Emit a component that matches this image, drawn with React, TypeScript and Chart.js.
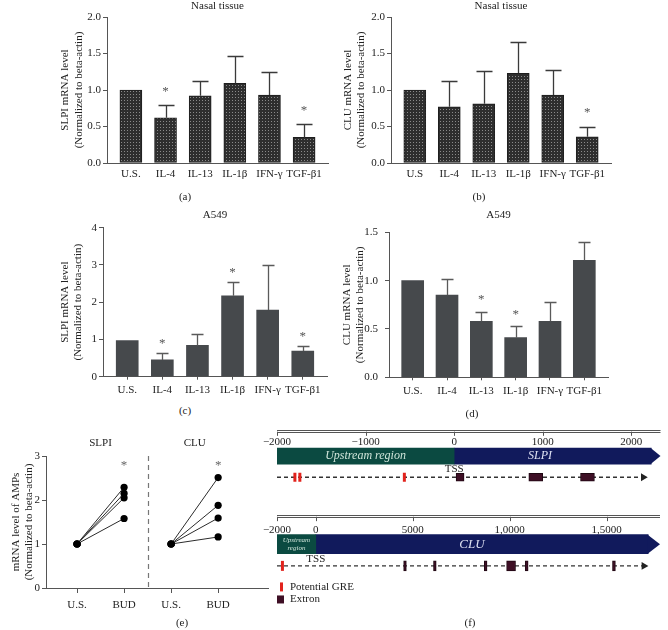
import React, { useEffect, useRef } from 'react';
import { Chart, registerables } from 'chart.js';

Chart.register(...registerables);

const SERIF = "'Liberation Serif', 'Times New Roman', Times, serif";
Chart.defaults.font.family = SERIF;
Chart.defaults.color = '#222';

// ---------------- data ----------------
const CATS_A = ['U.S.', 'IL-4', 'IL-13', 'IL-1β', 'IFN-γ', 'TGF-β1'];
const CATS_B = ['U.S', 'IL-4', 'IL-13', 'IL-1β', 'IFN-γ', 'TGF-β1'];

const NASAL_SLPI_MEAN = [1.0, 0.62, 0.92, 1.09, 0.93, 0.35];
const NASAL_SLPI_UPPER = [null, 0.79, 1.12, 1.47, 1.25, 0.54];
const NASAL_SLPI_SIG = [0, 1, 0, 0, 0, 1];

const NASAL_CLU_MEAN = [1.0, 0.77, 0.81, 1.23, 0.93, 0.36];
const NASAL_CLU_UPPER = [null, 1.13, 1.26, 1.66, 1.27, 0.5];
const NASAL_CLU_SIG = [0, 0, 0, 0, 0, 1];

const A549_SLPI_MEAN = [0.97, 0.45, 0.84, 2.17, 1.79, 0.69];
const A549_SLPI_UPPER = [null, 0.63, 1.15, 2.55, 3.0, 0.83];
const A549_SLPI_SIG = [0, 1, 0, 1, 0, 1];

const A549_CLU_MEAN = [1.0, 0.85, 0.58, 0.41, 0.58, 1.21];
const A549_CLU_UPPER = [null, 1.02, 0.68, 0.53, 0.78, 1.4];
const A549_CLU_SIG = [0, 0, 1, 1, 0, 0];

// (e)
const BUD_XLABELS = ['U.S.', 'BUD', 'U.S.', 'BUD'];
const BUD_GROUPS = ['SLPI', 'CLU'];
const BUD_SLPI_US = [1, 1, 1, 1];
const BUD_SLPI_BUD = [2.29, 2.15, 2.05, 1.58];
const BUD_CLU_US = [1, 1, 1, 1];
const BUD_CLU_BUD = [2.51, 1.88, 1.59, 1.16];
const BUD_STAR_LEVEL = 2.85;
const BUD_DIVIDER = 1.5;

// (f)
const TSS = 0;
const SLPI_TICKS = [-2000, -1000, 0, 1000, 2000];
const SLPI_TICK_LABELS = ['−2000', '−1000', '0', '1000', '2000'];
const SLPI_RANGE = [-2000, 2330];
const SLPI_UPSTREAM = [-2000, 0];
const SLPI_GENE = [0, 2225];
const SLPI_TRACK = [-2000, 2135];
const SLPI_GRE = [-1798, -1742, -562];
const SLPI_EXON_START = [22, 843, 1427];
const SLPI_EXON_END = [112, 1000, 1584];

const CLU_TICKS = [-2000, 0, 5000, 10000, 15000];
const CLU_TICK_LABELS = ['−2000', '0', '5000', '1,0000', '1,5000'];
const CLU_RANGE = [-2000, 17750];
const CLU_UPSTREAM = [-2000, 0];
const CLU_GENE = [0, 17140];
const CLU_TRACK = [-2000, 16920];
const CLU_GRE = [-1720];
const CLU_EXON_START = [4530, 6070, 8690, 9840, 10800, 15300];
const CLU_EXON_END = [4670, 6210, 8830, 10300, 10950, 15450];

// ---------------- styles ----------------
const TEAL = '#0b4a41';
const NAVY = '#111a5c';
const EXON = '#3e0f25';
const GRE_RED = '#e2231d';
const AXIS = '#555';
const X_MIN = -0.69;
const X_MAX = 5.69;

function errPlugin(p: any) {
  return {
    id: 'errbars',
    afterDatasetsDraw(chart: any) {
      const { ctx } = chart;
      const xs = chart.scales.x, ys = chart.scales.y;
      ctx.save();
      ctx.strokeStyle = p.errColor;
      ctx.lineWidth = 1.3;
      p.upper.forEach((u: number | null, i: number) => {
        if (u == null) return;
        const cx = Math.round(xs.getPixelForValue(i)) + 0.5;
        const top = Math.round(ys.getPixelForValue(u)) + 0.5;
        const base = ys.getPixelForValue(p.mean[i]);
        ctx.beginPath();
        ctx.moveTo(cx, base);
        ctx.lineTo(cx, top);
        ctx.moveTo(cx - p.cap / 2, top);
        ctx.lineTo(cx + p.cap / 2, top);
        ctx.stroke();
      });
      ctx.fillStyle = '#555';
      ctx.font = `13px ${SERIF}`;
      ctx.textAlign = 'center';
      ctx.textBaseline = 'middle';
      p.sig.forEach((s: number, i: number) => {
        if (!s) return;
        const ref = p.upper[i] ?? p.mean[i];
        ctx.fillText('*', xs.getPixelForValue(i), ys.getPixelForValue(ref) - p.starGap);
      });
      ctx.restore();
    },
  };
}

function makeBarConfig(p: any) {
  const font = { family: SERIF, size: 11 };
  let fill: any = p.fill;
  if (p.pattern) {
    const c = document.createElement('canvas');
    c.width = 3;
    c.height = 3;
    const g = c.getContext('2d')!;
    g.fillStyle = '#2e2e2e';
    g.fillRect(0, 0, 3, 3);
    g.fillStyle = '#8a8a8a';
    g.fillRect(1, 1, 1, 1);
    fill = g.createPattern(c, 'repeat');
  }
  return {
    type: 'bar',
    data: {
      datasets: [
        {
          data: p.mean.map((v: number, i: number) => ({ x: i, y: v })),
          backgroundColor: fill,
          borderColor: '#1e1e1e',
          borderWidth: p.barBorderWidth,
          borderSkipped: false,
          barThickness: 22,
        },
      ],
    },
    options: {
      animation: false,
      responsive: false,
      events: [],
      layout: { padding: { left: 0, right: p.padRight, top: p.padTop, bottom: 0 } },
      plugins: {
        legend: { display: false },
        tooltip: { enabled: false },
        title: {
          display: true,
          text: p.title,
          fullSize: false,
          color: '#222',
          font: { ...font, weight: 'normal', lineHeight: 1.2 },
          padding: { top: 0, bottom: p.titleGap },
        },
      },
      scales: {
        x: {
          type: 'linear',
          min: X_MIN,
          max: X_MAX,
          bounds: 'data',
          offset: false,
          afterBuildTicks: (s: any) => {
            s.ticks = p.cats.map((_: string, i: number) => ({ value: i }));
          },
          afterFit: (s: any) => {
            s.height = p.xAxisH;
          },
          ticks: {
            callback: (v: number) => p.cats[v] ?? '',
            autoSkip: false,
            maxRotation: 0,
            padding: p.xTickPad,
            font,
            color: '#222',
          },
          grid: {
            display: p.xTickLen > 0,
            drawOnChartArea: false,
            drawTicks: p.xTickLen > 0,
            tickLength: p.xTickLen,
            color: AXIS,
            offset: false,
          },
          border: { display: true, color: AXIS, width: 1 },
        },
        y: {
          type: 'linear',
          min: 0,
          max: p.yMax,
          bounds: 'data',
          offset: false,
          ticks: {
            stepSize: p.yStep,
            callback: (v: number) => Number(v).toFixed(p.decimals),
            padding: p.yTickPad,
            font,
            color: '#222',
          },
          afterFit: (s: any) => {
            s.width = p.yAxisW;
          },
          title: {
            display: true,
            text: p.yTitle,
            color: '#222',
            font: { ...font, lineHeight: 1.2 },
            padding: { top: p.yTitlePad, bottom: 0 },
          },
          grid: { display: true, drawOnChartArea: false, drawTicks: true, tickLength: 4, color: AXIS },
          border: { display: true, color: AXIS, width: 1 },
        },
      },
    },
    plugins: [errPlugin(p)],
  };
}

const makeA = () =>
  makeBarConfig({
    title: 'Nasal tissue', cats: CATS_A, mean: NASAL_SLPI_MEAN, upper: NASAL_SLPI_UPPER, sig: NASAL_SLPI_SIG,
    yMax: 2, yStep: 0.5, decimals: 1, yTitle: ['SLPI mRNA level', '(Normalized to beta-actin)'],
    yAxisW: 107, padRight: 6, padTop: 0, titleGap: 3.8, xAxisH: 27, yTitlePad: 59, yTickPad: 2,
    xTickLen: 0, xTickPad: 5, pattern: true, barBorderWidth: 1, cap: 16, errColor: '#3a3a3a', starGap: 13.5,
  });

const makeB = () =>
  makeBarConfig({
    title: 'Nasal tissue', cats: CATS_B, mean: NASAL_CLU_MEAN, upper: NASAL_CLU_UPPER, sig: NASAL_CLU_SIG,
    yMax: 2, yStep: 0.5, decimals: 1, yTitle: ['CLU mRNA level', '(Normalized to beta-actin)'],
    yAxisW: 57, padRight: 57, padTop: 0, titleGap: 3.8, xAxisH: 27, yTitlePad: 7.4, yTickPad: 2,
    xTickLen: 0, xTickPad: 4.5, pattern: true, barBorderWidth: 1, cap: 16, errColor: '#3a3a3a', starGap: 14,
  });

const makeC = () =>
  makeBarConfig({
    title: 'A549', cats: CATS_A, mean: A549_SLPI_MEAN, upper: A549_SLPI_UPPER, sig: A549_SLPI_SIG,
    yMax: 4, yStep: 1, decimals: 0, yTitle: ['SLPI mRNA level', '(Normalized to beta-actin)'],
    yAxisW: 103, padRight: 7, padTop: 8.4, titleGap: 6.1, xAxisH: 23.3, yTitlePad: 58.4, yTickPad: 2,
    xTickLen: 3, xTickPad: 4, pattern: false, fill: '#46494c', barBorderWidth: 0, cap: 12, errColor: '#5a5a5a', starGap: 9.5,
  });

const makeD = () =>
  makeBarConfig({
    title: 'A549', cats: CATS_A, mean: A549_CLU_MEAN, upper: A549_CLU_UPPER, sig: A549_CLU_SIG,
    yMax: 1.5, yStep: 0.5, decimals: 1, yTitle: ['CLU mRNA level', '(Normalized to beta-actin)'],
    yAxisW: 55, padRight: 60, padTop: 8.4, titleGap: 10.7, xAxisH: 22.7, yTitlePad: 6.2, yTickPad: 7,
    xTickLen: 3, xTickPad: 4, pattern: false, fill: '#46494c', barBorderWidth: 0, cap: 12, errColor: '#5a5a5a', starGap: 11.5,
  });

// ---------------- (e) ----------------
const budPlugin = {
  id: 'budDecor',
  beforeDatasetsDraw(chart: any) {
    const { ctx, chartArea } = chart;
    const xs = chart.scales.x;
    ctx.save();
    const dx = Math.round(xs.getPixelForValue(BUD_DIVIDER)) + 0.5;
    ctx.strokeStyle = '#777';
    ctx.lineWidth = 1.2;
    ctx.setLineDash([5, 4]);
    ctx.beginPath();
    ctx.moveTo(dx, chartArea.top);
    ctx.lineTo(dx, chartArea.bottom);
    ctx.stroke();
    ctx.restore();
  },
  afterDatasetsDraw(chart: any) {
    const { ctx, chartArea } = chart;
    const xs = chart.scales.x, ys = chart.scales.y;
    ctx.save();
    ctx.fillStyle = '#222';
    ctx.font = `11px ${SERIF}`;
    ctx.textAlign = 'center';
    ctx.textBaseline = 'middle';
    BUD_GROUPS.forEach((g, i) => ctx.fillText(g, xs.getPixelForValue(2 * i + 0.5), chartArea.top - 13));
    ctx.fillStyle = '#666';
    ctx.font = `13px ${SERIF}`;
    [1, 3].forEach((v) => ctx.fillText('*', xs.getPixelForValue(v), ys.getPixelForValue(BUD_STAR_LEVEL) + 2.5));
    ctx.restore();
  },
};

const makeE = () => {
  const font = { family: SERIF, size: 11 };
  const style = {
    borderColor: '#2b2b2b', borderWidth: 1, pointRadius: 3.6, pointBackgroundColor: '#000',
    pointBorderColor: '#000', pointBorderWidth: 0, fill: false, tension: 0,
  };
  const datasets: any[] = [];
  BUD_SLPI_US.forEach((u, i) => datasets.push({ ...style, data: [{ x: 0, y: u }, { x: 1, y: BUD_SLPI_BUD[i] }] }));
  BUD_CLU_US.forEach((u, i) => datasets.push({ ...style, data: [{ x: 2, y: u }, { x: 3, y: BUD_CLU_BUD[i] }] }));
  return {
    type: 'line',
    data: { datasets },
    options: {
      animation: false,
      responsive: false,
      events: [],
      layout: { padding: { left: 0, right: 4, top: 31, bottom: 0 } },
      plugins: { legend: { display: false }, tooltip: { enabled: false } },
      scales: {
        x: {
          type: 'linear', min: -0.66, max: 4.06, bounds: 'data', offset: false,
          afterBuildTicks: (s: any) => {
            s.ticks = BUD_XLABELS.map((_, i) => ({ value: i }));
          },
          afterFit: (s: any) => {
            s.height = 27;
          },
          ticks: { callback: (v: number) => BUD_XLABELS[v] ?? '', autoSkip: false, maxRotation: 0, padding: 6, font, color: '#222' },
          grid: { display: true, drawOnChartArea: false, drawTicks: true, tickLength: 5, color: AXIS, offset: false },
          border: { display: true, color: AXIS, width: 1 },
        },
        y: {
          type: 'linear', min: 0, max: 3, bounds: 'data', offset: false,
          ticks: { stepSize: 1, padding: 2, font, color: '#222' },
          afterFit: (s: any) => {
            s.width = 46;
          },
          title: {
            display: true,
            text: ['mRNA level of AMPs', '(Normalized to beta-actin)'],
            color: '#222',
            font: { ...font, lineHeight: 1.2 },
            padding: { top: 9.6, bottom: 0 },
          },
          grid: { display: true, drawOnChartArea: false, drawTicks: true, tickLength: 4, color: AXIS },
          border: { display: true, color: AXIS, width: 1 },
        },
      },
    },
    plugins: [budPlugin],
  };
};

// ---------------- (f) ----------------
function genePlugin(s: any) {
  return {
    id: 'geneDecor',
    beforeDatasetsDraw(chart: any) {
      const { ctx } = chart;
      const xs = chart.scales.x, ys = chart.scales.y;
      const L = xs.getPixelForValue(s.range[0]);
      const R = xs.getPixelForValue(s.range[1]);
      ctx.save();
      ctx.strokeStyle = '#555';
      ctx.lineWidth = 1;
      for (const r of [s.rows.line1, s.rows.line2]) {
        const yy = Math.round(ys.getPixelForValue(r)) + 0.5;
        ctx.beginPath();
        ctx.moveTo(L, yy);
        ctx.lineTo(R, yy);
        ctx.stroke();
      }
      const yA = ys.getPixelForValue(s.rows.line2);
      const yB = ys.getPixelForValue(s.rows.tickEnd);
      ctx.fillStyle = '#222';
      ctx.font = `11px ${SERIF}`;
      ctx.textAlign = 'center';
      ctx.textBaseline = 'middle';
      s.ticks.forEach((t: number, i: number) => {
        const px = Math.round(xs.getPixelForValue(t)) + 0.5;
        ctx.beginPath();
        ctx.moveTo(px, yA);
        ctx.lineTo(px, yB);
        ctx.stroke();
        ctx.fillText(s.tickLabels[i], xs.getPixelForValue(t), ys.getPixelForValue(s.rows.label));
      });
      ctx.restore();
    },
    afterDatasetsDraw(chart: any) {
      const { ctx, chartArea } = chart;
      const xs = chart.scales.x, ys = chart.scales.y;
      const gy = ys.getPixelForValue(s.rows.gene);
      const h = s.geneThick / 2;
      const xb = xs.getPixelForValue(s.gene[1]);
      const xt = xs.getPixelForValue(s.range[1]);
      ctx.save();
      ctx.fillStyle = NAVY;
      ctx.beginPath();
      ctx.moveTo(xb - 0.5, gy - h);
      ctx.lineTo(xt, gy);
      ctx.lineTo(xb - 0.5, gy + h);
      ctx.closePath();
      ctx.fill();
      ctx.textAlign = 'center';
      ctx.textBaseline = 'middle';
      const ux = xs.getPixelForValue((s.upstream[0] + s.upstream[1]) / 2);
      ctx.fillStyle = '#cfe5da';
      ctx.font = `italic ${s.upFont}px ${SERIF}`;
      const n = s.upLabel.length;
      s.upLabel.forEach((line: string, i: number) =>
        ctx.fillText(line, ux, gy + (i - (n - 1) / 2) * s.upFont * 1.15)
      );
      ctx.fillStyle = '#dde0f2';
      ctx.font = `italic ${s.geneFont}px ${SERIF}`;
      ctx.fillText(s.geneLabel, xs.getPixelForValue(s.geneLabelAt), gy);
      ctx.fillStyle = '#222';
      ctx.font = `11px ${SERIF}`;
      ctx.fillText('TSS', xs.getPixelForValue(TSS), ys.getPixelForValue(s.rows.tss));
      if (s.legend) {
        const L = chartArea.left;
        const gyL = ys.getPixelForValue(s.legend.gre);
        const eyL = ys.getPixelForValue(s.legend.exon);
        ctx.strokeStyle = GRE_RED;
        ctx.lineWidth = 3;
        ctx.beginPath();
        ctx.moveTo(L + 4.5, gyL - 4.5);
        ctx.lineTo(L + 4.5, gyL + 4.5);
        ctx.stroke();
        ctx.fillStyle = EXON;
        ctx.fillRect(L, eyL - 4, 7, 8);
        ctx.fillStyle = '#222';
        ctx.textAlign = 'left';
        ctx.font = `11px ${SERIF}`;
        ctx.fillText('Potential GRE', L + 13, gyL);
        ctx.fillText('Extron', L + 13, eyL);
      }
      ctx.restore();
    },
  };
}

function makeGeneConfig(s: any) {
  const gy = s.rows.gene;
  const ty = s.rows.track;
  return {
    type: 'bar',
    data: {
      datasets: [
        {
          type: 'bar', indexAxis: 'y', data: [{ x: [s.upstream[0], s.upstream[1]], y: gy }],
          backgroundColor: TEAL, borderWidth: 0, barThickness: s.geneThick, stack: 'g', order: 5,
        },
        {
          type: 'bar', indexAxis: 'y', data: [{ x: [s.gene[0], s.gene[1]], y: gy }],
          backgroundColor: NAVY, borderWidth: 0, barThickness: s.geneThick, stack: 'g', order: 5,
        },
        {
          type: 'line', indexAxis: 'x',
          data: [{ x: s.track[0], y: ty }, { x: s.track[1], y: ty }],
          borderColor: '#333', borderWidth: 1.3, borderDash: [4, 3],
          pointRadius: [0, 4.5], pointStyle: 'triangle', pointRotation: 90,
          pointBackgroundColor: '#222', pointBorderColor: '#222', pointBorderWidth: 0, order: 4,
        },
        {
          type: 'bar', indexAxis: 'y',
          data: s.exonStart.map((st: number, i: number) => ({ x: [st, s.exonEnd[i]], y: ty })),
          backgroundColor: EXON, borderColor: '#1f0712', borderWidth: 1, borderSkipped: false,
          barThickness: s.exonThick, stack: 'g', order: 2,
        },
        {
          type: 'scatter', indexAxis: 'x',
          data: s.gre.map((g: number) => ({ x: g, y: ty })),
          pointStyle: 'line', pointRadius: s.greLen / 2, pointRotation: 90,
          pointBorderWidth: s.greWidth, pointBorderColor: GRE_RED, pointBackgroundColor: GRE_RED,
          showLine: false, order: 1,
        },
      ],
    },
    options: {
      indexAxis: 'y',
      animation: false,
      responsive: false,
      events: [],
      layout: { padding: { left: s.padLeft, right: s.padRight, top: 0, bottom: 0 } },
      plugins: { legend: { display: false }, tooltip: { enabled: false }, title: { display: false } },
      scales: {
        x: { type: 'linear', display: false, min: s.range[0], max: s.range[1], bounds: 'data', offset: false, stacked: false },
        y: { type: 'linear', display: false, min: 0, max: s.h, reverse: true, bounds: 'data', offset: false },
      },
    },
    plugins: [genePlugin(s)],
  };
}

const makeSlpiGene = () =>
  makeGeneConfig({
    h: 90, padLeft: 15, padRight: 6,
    range: SLPI_RANGE, ticks: SLPI_TICKS, tickLabels: SLPI_TICK_LABELS,
    upstream: SLPI_UPSTREAM, gene: SLPI_GENE, track: SLPI_TRACK, gre: SLPI_GRE,
    exonStart: SLPI_EXON_START, exonEnd: SLPI_EXON_END,
    rows: { line1: 14.5, line2: 17, tickEnd: 22, label: 29.3, gene: 46.3, tss: 61.7, track: 71.7 },
    geneThick: 16, exonThick: 8, greLen: 9, greWidth: 3,
    geneLabel: 'SLPI', geneLabelAt: 970, geneFont: 12,
    upLabel: ['Upstream region'], upFont: 12,
  });

const makeCluGene = () =>
  makeGeneConfig({
    h: 130, padLeft: 15, padRight: 6,
    range: CLU_RANGE, ticks: CLU_TICKS, tickLabels: CLU_TICK_LABELS,
    upstream: CLU_UPSTREAM, gene: CLU_GENE, track: CLU_TRACK, gre: CLU_GRE,
    exonStart: CLU_EXON_START, exonEnd: CLU_EXON_END,
    rows: { line1: 7.5, line2: 10, tickEnd: 15, label: 25, gene: 41.2, tss: 58.3, track: 66 },
    geneThick: 19, exonThick: 10, greLen: 10, greWidth: 3,
    geneLabel: 'CLU', geneLabelAt: 8050, geneFont: 13,
    upLabel: ['Upstream', 'region'], upFont: 7,
    legend: { gre: 90, exon: 104.3 },
  });

// ---------------- components ----------------
function ChartBox({ left, top, width, height, make }: any) {
  const ref = useRef<HTMLCanvasElement>(null);
  useEffect(() => {
    const chart = new Chart(ref.current as HTMLCanvasElement, make());
    return () => chart.destroy();
  }, [make]);
  return (
    <canvas
      ref={ref}
      width={width}
      height={height}
      style={{ position: 'absolute', left, top, width, height, display: 'block' }}
    />
  );
}

function PanelLabel({ text, x, y }: any) {
  return (
    <div
      style={{
        position: 'absolute', left: x - 20, top: y - 8, width: 40, height: 16, lineHeight: '16px',
        textAlign: 'center', fontFamily: SERIF, fontSize: 11, color: '#222',
      }}
    >
      {text}
    </div>
  );
}

export default function App() {
  return (
    <div style={{ position: 'absolute', left: 0, top: 0, width: 668, height: 630, background: '#fff', overflow: 'hidden' }}>
      <ChartBox left={0} top={0} width={334} height={190} make={makeA} />
      <ChartBox left={334} top={0} width={334} height={190} make={makeB} />
      <ChartBox left={0} top={200} width={334} height={200} make={makeC} />
      <ChartBox left={334} top={200} width={334} height={200} make={makeD} />
      <ChartBox left={0} top={425} width={272} height={190} make={makeE} />
      <ChartBox left={262} top={410} width={406} height={90} make={makeSlpiGene} />
      <ChartBox left={262} top={500} width={406} height={130} make={makeCluGene} />
      <PanelLabel text="(a)" x={185} y={196} />
      <PanelLabel text="(b)" x={479} y={196} />
      <PanelLabel text="(c)" x={185} y={410} />
      <PanelLabel text="(d)" x={472} y={413} />
      <PanelLabel text="(e)" x={182} y={622} />
      <PanelLabel text="(f)" x={470} y={622} />
    </div>
  );
}
